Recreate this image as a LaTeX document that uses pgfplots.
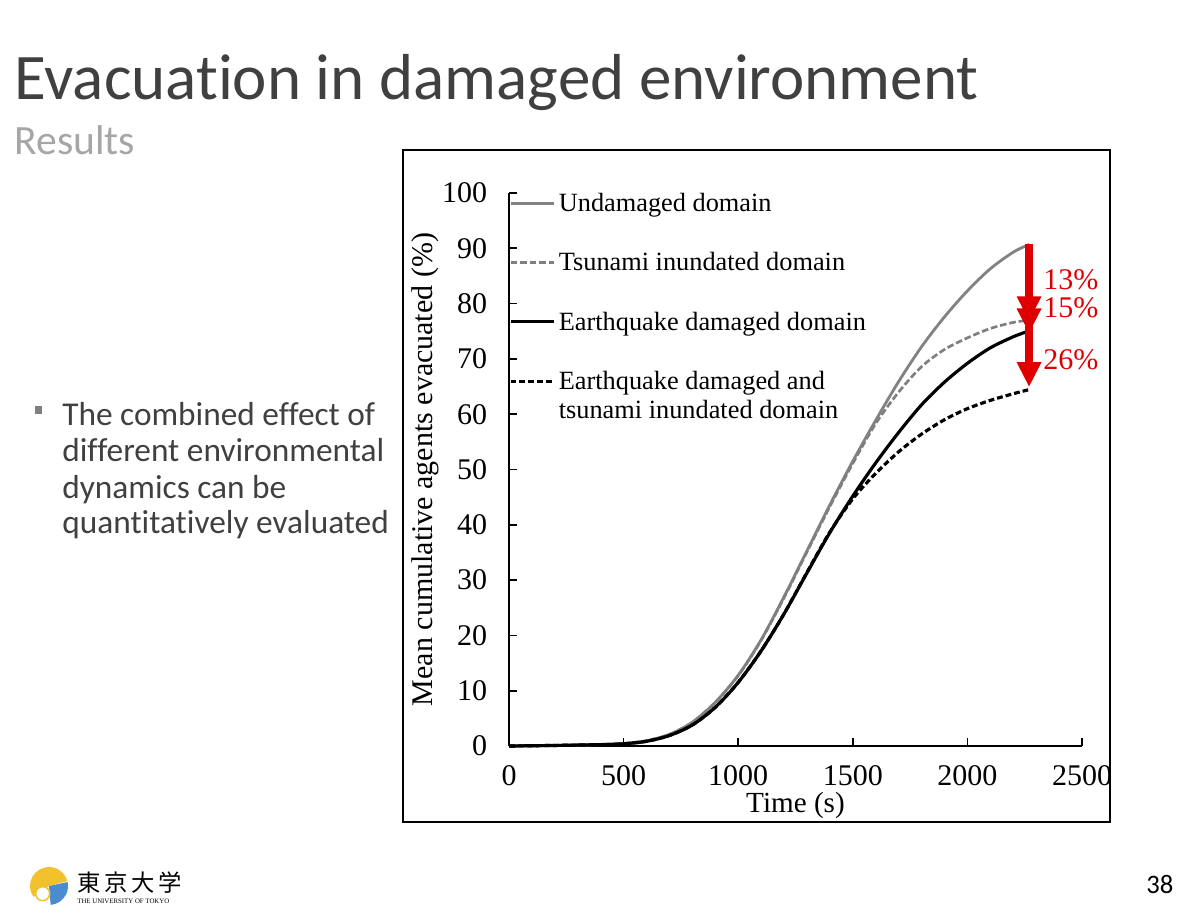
\documentclass[border=0pt]{standalone}
\usepackage{fontspec}
\setmainfont{Carlito}[Ligatures=NoCommon]
\newfontfamily\chartfont{Liberation Serif}
\newfontfamily\cjk{Noto Sans CJK JP}
\usepackage{pgfplots}
\usepackage{pgfplotstable}
\pgfplotsset{compat=1.18}
\usetikzlibrary{arrows.meta}
\definecolor{txt}{HTML}{404040}
\definecolor{sub}{HTML}{A6A6A6}
\definecolor{ugray}{HTML}{828282}
\definecolor{tgray}{HTML}{7F7F7F}
\definecolor{ared}{RGB}{222,0,0}
\definecolor{gyellow}{HTML}{F2C12E}
\definecolor{gblue}{HTML}{4A8CD0}

\pgfplotstableread{
t v
0 0
200 0.1
400 0.25
500 0.45
600 0.95
700 2.1
800 4.3
900 7.9
1000 12.8
1100 19.2
1200 27.0
1300 35.3
1400 43.6
1500 51.5
1600 58.9
1700 65.9
1800 72.2
1900 77.6
2000 82.3
2100 86.3
2200 89.3
2270 90.7
}\undamaged

\pgfplotstableread{
t v
0 0
200 0.1
400 0.25
500 0.45
600 0.95
700 2.1
800 4.3
900 7.9
1000 12.7
1100 19.1
1200 26.8
1300 35.1
1400 43.3
1500 51.1
1600 58.3
1700 64.0
1800 68.6
1900 71.7
2000 73.8
2100 75.5
2200 76.6
2270 77.0
}\tsunami

\pgfplotstableread{
t v
0 0
200 0.1
400 0.25
500 0.4
600 0.85
700 1.9
800 3.8
900 7.0
1000 11.5
1100 17.2
1200 23.9
1300 31.3
1400 38.6
1500 45.2
1600 51.2
1700 56.7
1800 61.7
1900 65.8
2000 69.2
2100 72.0
2200 74.0
2265 75.0
}\earthquake

\pgfplotstableread{
t v
0 0
200 0.1
400 0.25
500 0.4
600 0.85
700 1.9
800 3.8
900 7.0
1000 11.5
1100 17.2
1200 23.9
1300 31.4
1400 38.7
1500 44.7
1600 49.3
1700 53.2
1800 56.4
1900 59.0
2000 61.0
2100 62.5
2200 63.7
2265 64.4
}\combined

\begin{document}
\begin{tikzpicture}
\useasboundingbox (0,0) rectangle (720pt,547.2pt);
% slide texts
\node[anchor=base west, inner sep=0pt, text=txt, font=\fontsize{39}{39}\selectfont] at (8.4pt,487.2pt) {Evacuation in damaged environment};
\node[anchor=base west, inner sep=0pt, text=sub, font=\fontsize{25}{25}\selectfont] at (8.4pt,454.2pt) {Results};
\fill[tgray] (21pt,299.1pt) rectangle ++(4.4pt,4.4pt);
\begin{scope}[every node/.style={anchor=base west, inner sep=0pt, text=txt, font=\fontsize{20}{20}\selectfont}]
\node at (37.2pt,292.2pt) {The combined effect of};
\node at (37.2pt,270.2pt) {different environmental};
\node at (37.2pt,248.4pt) {dynamics can be};
\node at (37.2pt,227.4pt) {quantitatively evaluated};
\end{scope}
% frame
\draw[line width=1.2pt] (241.8pt,54pt) rectangle (666pt,457.2pt);
% logo
\fill[gyellow] (29.4pt,15.6pt) -- ++(15:11.4pt) arc (15:215:11.4pt) -- cycle;
\fill[gblue] (29.4pt,15.6pt) -- ++(-85:11.4pt) arc (-85:12:11.4pt) -- cycle;
\draw[gyellow, line width=0.9pt, fill=white] (25.6pt,11pt) circle (4.2pt);
\node[anchor=base west, inner sep=0pt] at (46.2pt,12.6pt) {\cjk\fontsize{14}{14}\selectfont 東\hspace{2.2pt}京\hspace{2.2pt}大\hspace{2.2pt}学};
\node[anchor=base west, inner sep=0pt] at (46.2pt,5.2pt) {\chartfont\fontsize{4.1}{4.1}\selectfont THE UNIVERSITY OF TOKYO};
\node[anchor=base west, inner sep=0pt, font=\fontsize{16}{16}\selectfont] at (687.6pt,11.4pt) {38};

\begin{axis}[
  at={(305.4pt,99.6pt)}, anchor=south west,
  width=343.8pt, height=331.8pt, scale only axis,
  xmin=0, xmax=2500, ymin=0, ymax=100,
  axis lines=left, axis line style={-, line width=1.2pt},
  tick align=inside, major tick length=5pt,
  tick style={line width=1pt, black},
  xtick={0,500,...,2500}, ytick={0,10,...,100},
  clip=false,
  /pgf/number format/assume math mode=true,
  /pgf/number format/1000 sep={},
  ticklabel style={font=\chartfont\fontsize{18}{18}\selectfont},
  xticklabel style={yshift=-8.4pt},
  yticklabel style={xshift=-9.6pt},
  every axis y label/.style={at={(axis description cs:-0.1466,0.5)}, rotate=90, anchor=center, font=\chartfont\fontsize{18}{18}\selectfont},
  every axis x label/.style={at={(axis description cs:0.5,-0.107)}, anchor=center, font=\chartfont\fontsize{17.5}{17.5}\selectfont},
  xlabel={Time (s)},
  ylabel={Mean cumulative agents evacuated (\%)},
  legend style={at={(axis cs:0,100)}, anchor=north west, draw=none, fill=none,
    inner sep=0pt, outer sep=0pt, row sep=21.1pt, column sep=2pt,
    font=\chartfont\fontsize{15.8}{17.5}\selectfont,
    nodes={inner sep=0pt, text height=11pt, text depth=3.5pt}},
  legend cell align=left,
  legend image code/.code={\draw[#1] (0pt,1.2pt) -- (26pt,1.2pt);},
]
\addplot[ugray, line width=1.7pt, smooth, tension=0.5] table[x=t,y=v] {\undamaged};
\addlegendentry{Undamaged domain}
\addplot[tgray, line width=1.6pt, smooth, tension=0.5, dash pattern=on 4pt off 1.7pt] table[x=t,y=v] {\tsunami};
\addlegendentry{Tsunami inundated domain}
\addplot[black, line width=1.9pt, smooth, tension=0.5] table[x=t,y=v] {\earthquake};
\addlegendentry{Earthquake damaged domain}
\addplot[black, line width=1.9pt, smooth, tension=0.5, dash pattern=on 3.5pt off 1.8pt] table[x=t,y=v] {\combined};
\addlegendentry{\begin{tabular}[t]{@{}l@{}}Earthquake damaged and\\tsunami inundated domain\end{tabular}}

\draw[ared, line width=4.8pt, -{Triangle[width=13.8pt,length=15pt]}] (axis cs:2269,90.7) -- (axis cs:2269,76.8);
\draw[ared, line width=4.8pt, -{Triangle[width=13.8pt,length=15pt]}] (axis cs:2269,90.7) -- (axis cs:2269,74.6);
\draw[ared, line width=4.8pt, -{Triangle[width=13.8pt,length=15pt]}] (axis cs:2269,76) -- (axis cs:2269,64.9);
\begin{scope}[every node/.style={anchor=base west, inner sep=0pt, text=ared, font=\chartfont\fontsize{18}{18}\selectfont}]
\node at (axis cs:2330,82.6) {13\%};
\node at (axis cs:2330,77.4) {15\%};
\node at (axis cs:2330,68.0) {26\%};
\end{scope}
\end{axis}
\end{tikzpicture}
\end{document}
